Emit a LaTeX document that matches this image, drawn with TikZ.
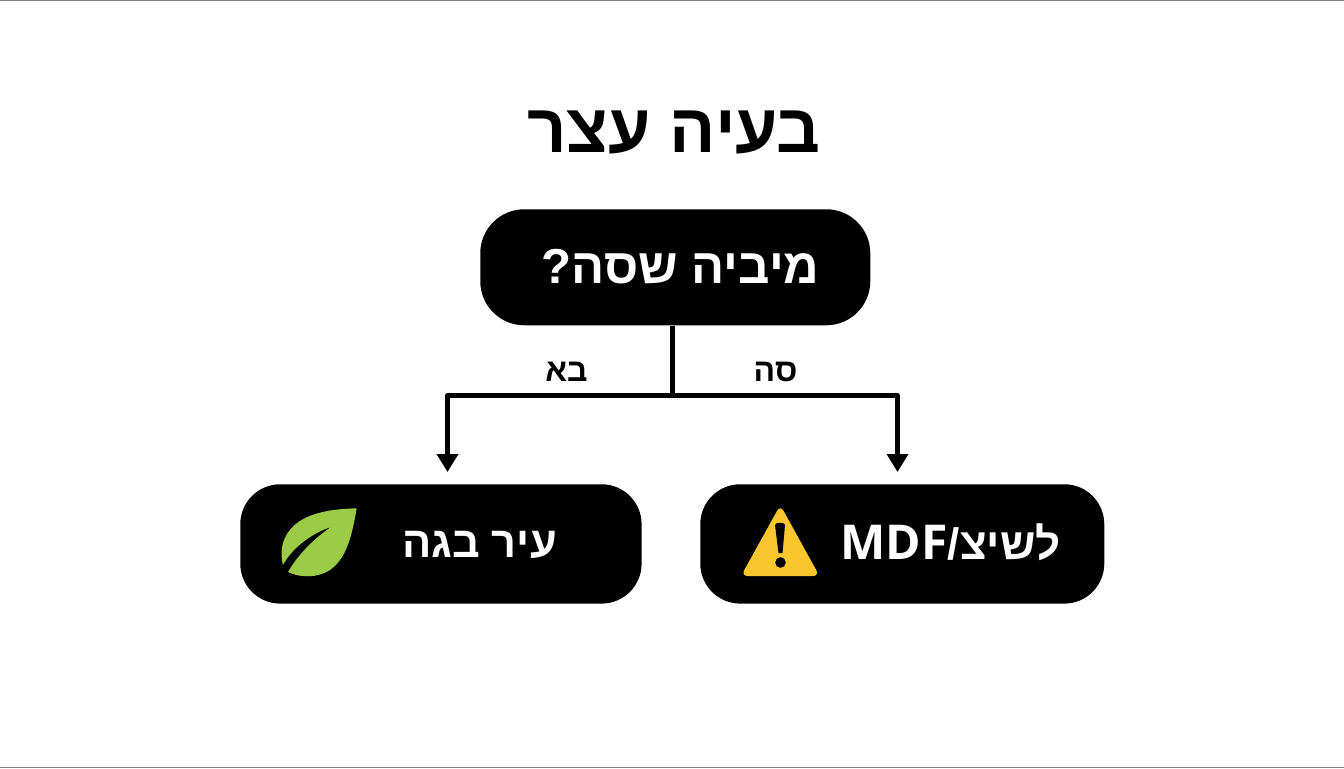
\documentclass[tikz,border=0pt]{standalone}
\usepackage{fontspec}
\usetikzlibrary{arrows.meta}
\TeXXeTstate=1
\newfontfamily\hebfont[Script=Hebrew]{Liberation Sans}
\newfontfamily\latfont{Open Sans}
\definecolor{leafgreen}{HTML}{9CCB45}
\definecolor{warnyellow}{HTML}{F9C62E}
\tikzset{
  x=0.75pt,y=-0.75pt,
  box/.style={draw=none,fill=black,rounded corners=#1,inner sep=0pt,anchor=north west},
  conn/.style={draw=black,line width=3.4pt,line join=round},
  arrowed/.style={conn,-{Triangle[width=15.5pt,length=13.5pt]}},
  label/.style={inner sep=0pt,font=\hebfont\bfseries},
}
\begin{document}
\begin{tikzpicture}
\useasboundingbox (0,0) rectangle (1344,768);
\fill[white] (0,0) rectangle (1344,768);
\draw[gray,line width=0.75pt] (0,0.5) -- (1344,0.5);
\draw[gray,line width=0.9pt] (0,767.4) -- (1344,767.4);
\node[label,text=black,font=\hebfont\bfseries\fontsize{51.5}{55}\selectfont] (title) at (674,132) {\beginR בעיה עצר\endR};
\node[box=33pt,minimum width=292.5pt,minimum height=87pt] (top) at (480,209) {};
\node[box=30pt,minimum width=301pt,minimum height=89.5pt] (left) at (240,484) {};
\node[box=30pt,minimum width=303pt,minimum height=89.5pt] (right) at (700,484) {};
\node[label,text=white,font=\hebfont\bfseries\fontsize{36.8}{40}\selectfont] (toptext) at (680.5,267) {\beginR מיביה שסה?\endR};
\node[label,text=white,font=\hebfont\bfseries\fontsize{32.5}{36}\selectfont] (lefttext) at (479.5,545) {\beginR עיר בגה\endR};
\node[label,text=white,font=\hebfont\bfseries\fontsize{33}{36}\selectfont] (righttext) at (950.5,542) {\beginR לשיצ/\beginL{\latfont\fontsize{36}{38}\selectfont\bfseries MDF}\endL\endR};
\node[label,text=black,font=\hebfont\bfseries\fontsize{24}{27}\selectfont] (ba) at (566.5,372) {\beginR בא\endR};
\node[label,text=black,font=\hebfont\bfseries\fontsize{24}{27}\selectfont] (sa) at (775.5,372) {\beginR סה\endR};
\coordinate (hub) at (672.5,395.5);
\coordinate (leftend) at (447.5,472);
\coordinate (rightend) at (897.5,472);
\draw[conn] (top.south -| hub) -- (hub);
\draw[arrowed] (hub) -| (leftend);
\draw[arrowed] (hub) -| (rightend);
% leaf
\fill[leafgreen] (356.7,508.3) .. controls (330,509) and (292,513) .. (283,543)
  .. controls (281,550) and (281,558) .. (283,565)
  .. controls (292,548) and (312,533) .. (331,527)
  .. controls (315,538) and (299,553) .. (288,572)
  .. controls (300,578) and (318,578) .. (330,570)
  .. controls (347,558) and (352,535) .. (356.7,508.3) -- cycle;
% warning sign
\fill[warnyellow,rounded corners=5pt] (780.3,505) -- (819.5,576) -- (741,576) -- cycle;
\fill[black] (775,525) .. controls (775,522) and (785,522) .. (785,525)
  -- (782.5,553) -- (778.5,553) -- cycle;
\fill[black] (780.5,562.5) circle[radius=5.3];
\end{tikzpicture}
\end{document}
